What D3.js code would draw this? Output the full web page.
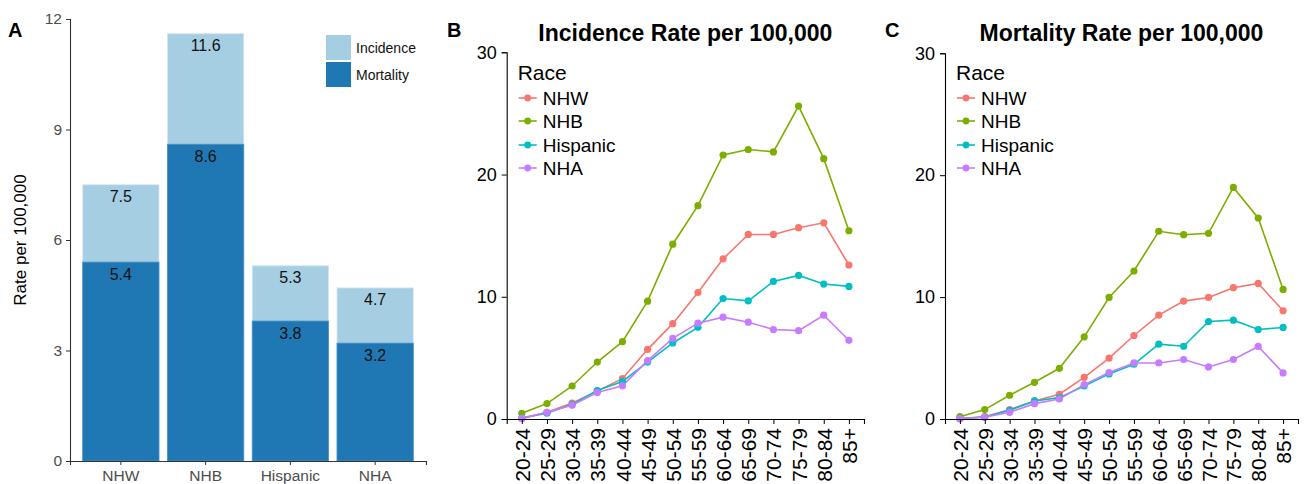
<!DOCTYPE html>
<html>
<head>
<meta charset="utf-8">
<script src="https://cdn.jsdelivr.net/npm/d3@7"></script>
<style>
  body { margin: 0; background: #fff; }
  svg { font-family: "Liberation Sans", Arial, sans-serif; }
</style>
</head>
<body>
<svg id="chart" width="1304" height="484"></svg>
<script>
// panel A data
var races = ["NHW", "NHB", "Hispanic", "NHA"];
var incidenceRate = [7.5, 11.6, 5.3, 4.7];
var mortalityRate = [5.4, 8.6, 3.8, 3.2];
var barTicks = [0, 3, 6, 9, 12];

// panel B / C data
var ageGroups = ["20-24", "25-29", "30-34", "35-39", "40-44", "45-49", "50-54",
                 "55-59", "60-64", "65-69", "70-74", "75-79", "80-84", "85+"];
var lineTicks = [0, 10, 20, 30];

var incNHW  = [0.05, 0.55, 1.3, 2.3, 3.3, 5.7, 7.8, 10.35, 13.1, 15.1, 15.1, 15.65, 16.05, 12.6];
var incNHB  = [0.47, 1.26, 2.7, 4.66, 6.33, 9.64, 14.3, 17.45, 21.6, 22.05, 21.85, 25.6, 21.3, 15.4];
var incHisp = [0.08, 0.47, 1.2, 2.33, 3.07, 4.66, 6.22, 7.5, 9.86, 9.67, 11.26, 11.75, 11.04, 10.85];
var incNHA  = [0.05, 0.55, 1.12, 2.16, 2.71, 4.77, 6.6, 7.84, 8.33, 7.92, 7.32, 7.23, 8.49, 6.44];

var mortNHW  = [0.03, 0.19, 0.77, 1.48, 2.03, 3.42, 4.99, 6.85, 8.52, 9.67, 9.97, 10.77, 11.12, 8.88];
var mortNHB  = [0.19, 0.77, 1.95, 3.01, 4.16, 6.74, 9.97, 12.14, 15.4, 15.12, 15.23, 19.0, 16.49, 10.63];
var mortHisp = [0.03, 0.16, 0.71, 1.48, 1.75, 2.71, 3.7, 4.49, 6.14, 5.97, 8.0, 8.11, 7.34, 7.51];
var mortNHA  = [0.03, 0.14, 0.55, 1.26, 1.64, 2.82, 3.81, 4.6, 4.6, 4.88, 4.27, 4.88, 5.95, 3.78];

var raceColors = ["#F8766D", "#7CAE00", "#00BFC4", "#C77CFF"];

var svg = d3.select("#chart");

// ---------- panel A: bars ----------
var xBar = d3.scaleBand().domain(races).range([70, 426]).paddingInner(0.1).paddingOuter(0.15);
var yBar = d3.scaleLinear().domain([0, 12]).range([461, 19]);

var gA = svg.append("g");

gA.selectAll("rect.inc")
    .data(races)
    .join("rect")
    .attr("x", d => xBar(d))
    .attr("width", xBar.bandwidth())
    .attr("y", (d, i) => yBar(incidenceRate[i]))
    .attr("height", (d, i) => yBar(0) - yBar(incidenceRate[i]))
    .attr("fill", "#a6cee3")
    .attr("stroke", "#d4e8f2")
    .attr("stroke-width", 0.8);

gA.selectAll("rect.mort")
    .data(races)
    .join("rect")
    .attr("x", d => xBar(d))
    .attr("width", xBar.bandwidth())
    .attr("y", (d, i) => yBar(mortalityRate[i]))
    .attr("height", (d, i) => yBar(0) - yBar(mortalityRate[i]))
    .attr("fill", "#1f78b4")
    .attr("stroke", "#4a92c4")
    .attr("stroke-width", 0.8);

// value labels
races.forEach(function(r, i) {
    [incidenceRate[i], mortalityRate[i]].forEach(function(v) {
        gA.append("text")
            .attr("x", xBar(r) + xBar.bandwidth() / 2)
            .attr("y", yBar(v) + 17.5)
            .attr("text-anchor", "middle")
            .attr("font-size", 16)
            .attr("fill", "#111")
            .text(v.toFixed(1));
    });
});

var axA = gA.append("g")
    .attr("transform", "translate(0," + 461 + ")")
    .call(d3.axisBottom(xBar).tickSizeOuter(0).tickSize(4).tickPadding(5));
var ayA = gA.append("g")
    .attr("transform", "translate(70,0)")
    .call(d3.axisLeft(yBar).tickValues(barTicks).tickSizeOuter(0).tickSize(4).tickPadding(4));
[axA, ayA].forEach(function(a) {
    a.select(".domain").attr("stroke", "#333").attr("stroke-width", 1.1);
    a.selectAll(".tick line").attr("stroke", "#333");
    a.selectAll(".tick text").attr("fill", "#4d4d4d").attr("font-size", 15.5)
        .attr("font-family", "Liberation Sans, Arial, sans-serif");
});

gA.append("text")
    .attr("transform", "translate(26,240) rotate(-90)")
    .attr("text-anchor", "middle")
    .attr("font-size", 17)
    .attr("fill", "#000")
    .text("Rate per 100,000");

// legend A
var legA = [["Incidence", "#a6cee3"], ["Mortality", "#1f78b4"]];
legA.forEach(function(l, i) {
    gA.append("rect")
        .attr("x", 326).attr("y", 35 + i * 27)
        .attr("width", 25).attr("height", 25)
        .attr("fill", l[1]);
    gA.append("text")
        .attr("x", 356).attr("y", 35 + i * 27 + 17.5)
        .attr("font-size", 14)
        .attr("fill", "#111")
        .text(l[0]);
});

gA.append("text")
    .attr("x", 8).attr("y", 37)
    .attr("font-size", 20).attr("font-weight", "bold")
    .text("A");

// ---------- panels B and C: lines ----------
function linePanel(opts) {
    var g = svg.append("g");
    var x = d3.scalePoint().domain(ageGroups).range([opts.x0, opts.x1]).padding(0.6);
    var y = d3.scaleLinear().domain([0, 30]).range([419, opts.yTop]);

    var series = opts.series;
    var line = d3.line().x((d, i) => x(ageGroups[i])).y(d => y(d));

    series.forEach(function(s, k) {
        g.append("path")
            .datum(s)
            .attr("d", line)
            .attr("fill", "none")
            .attr("stroke", raceColors[k])
            .attr("stroke-width", 1.6);
    });
    series.forEach(function(s, k) {
        g.selectAll(null)
            .data(s)
            .join("circle")
            .attr("cx", (d, i) => x(ageGroups[i]))
            .attr("cy", d => y(d))
            .attr("r", 3.6)
            .attr("fill", raceColors[k]);
    });

    var ax = g.append("g")
        .attr("transform", "translate(0,419)")
        .call(d3.axisBottom(x).tickSizeOuter(0).tickSize(5).tickPadding(4));
    ax.selectAll(".tick text")
        .attr("transform", "rotate(-90)")
        .attr("text-anchor", "end")
        .attr("dy", "0.36em")
        .attr("x", -9)
        .attr("y", 0)
        .attr("font-size", 21);
    var ay = g.append("g")
        .attr("transform", "translate(" + opts.x0 + ",0)")
        .call(d3.axisLeft(y).tickValues(lineTicks).tickSizeOuter(0).tickSize(5).tickPadding(5));
    ay.selectAll(".tick text").attr("font-size", 18);
    [ax, ay].forEach(function(a) {
        a.select(".domain").attr("stroke", "#000").attr("stroke-width", 1.1);
        a.selectAll(".tick line").attr("stroke", "#000");
        a.selectAll(".tick text").attr("fill", "#000")
            .attr("font-family", "Liberation Sans, Arial, sans-serif");
    });

    g.append("text")
        .attr("x", (opts.x0 + opts.x1) / 2).attr("y", 41)
        .attr("text-anchor", "middle")
        .attr("font-size", 23).attr("font-weight", "bold")
        .text(opts.title);

    g.append("text")
        .attr("x", opts.letterX).attr("y", 37)
        .attr("font-size", 20).attr("font-weight", "bold")
        .text(opts.letter);

    // legend
    var lx = opts.x0 + 11;
    g.append("text")
        .attr("x", lx).attr("y", 79.5)
        .attr("font-size", 21)
        .text("Race");
    var rowY = [98, 121, 145, 168];
    races.forEach(function(r, k) {
        g.append("line")
            .attr("x1", lx + 1).attr("x2", lx + 19)
            .attr("y1", rowY[k]).attr("y2", rowY[k])
            .attr("stroke", raceColors[k]).attr("stroke-width", 1.6);
        g.append("circle")
            .attr("cx", lx + 10).attr("cy", rowY[k]).attr("r", 3.4)
            .attr("fill", raceColors[k]);
        g.append("text")
            .attr("x", lx + 25).attr("y", rowY[k] + 6.5)
            .attr("font-size", 19)
            .text(r);
    });
}

linePanel({
    x0: 506.7, x1: 864, yTop: 52.3,
    title: "Incidence Rate per 100,000",
    letter: "B", letterX: 447,
    series: [incNHW, incNHB, incHisp, incNHA]
});

linePanel({
    x0: 945, x1: 1298, yTop: 53.3,
    title: "Mortality Rate per 100,000",
    letter: "C", letterX: 885,
    series: [mortNHW, mortNHB, mortHisp, mortNHA]
});
</script>
</body>
</html>
